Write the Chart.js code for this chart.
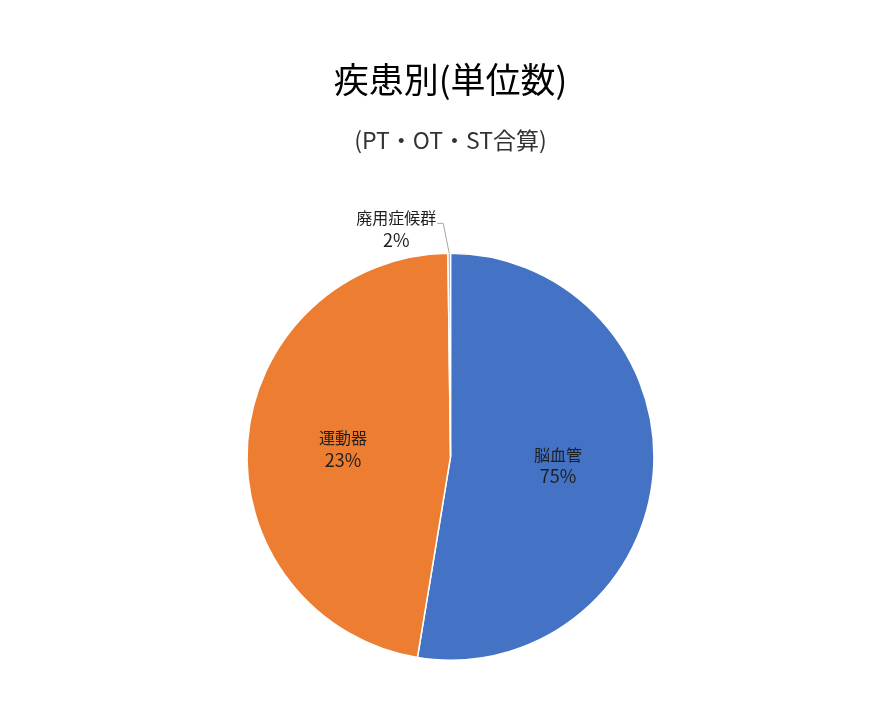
<!DOCTYPE html>
<html lang="ja">
<head>
<meta charset="UTF-8">
<title>疾患別(単位数)</title>
<script src="https://cdn.jsdelivr.net/npm/chart.js"></script>
<style>
  html, body { margin: 0; padding: 0; background: #fff; }
  #wrap { width: 893px; height: 720px; }
</style>
</head>
<body>
<div id="wrap"><canvas id="pieChart"></canvas></div>
<script>
// categories and values
const categories = ['脳血管', '運動器', '廃用症候群'];
// slice sizes as drawn in the picture (share of the circle, %)
const sliceValues = [52.6, 47.2, 0.2];
// percentage labels printed on the slices
const percentLabels = ['75%', '23%', '2%'];
const sliceColors = ['#4472C4', '#ED7D31', '#A5A5A5'];

const jpFont = '"Noto Sans CJK JP", "Noto Sans", sans-serif';

// draws the category name + percentage; tiny slices get an outside label with a leader line
const sliceLabels = {
    id: 'sliceLabels',
    afterDatasetsDraw(chart) {
        const ctx = chart.ctx;
        const meta = chart.getDatasetMeta(0);
        ctx.save();
        ctx.textAlign = 'center';
        ctx.textBaseline = 'middle';
        ctx.fillStyle = '#1f1f1f';
        meta.data.forEach((arc, i) => {
            const p = arc.getProps(['x', 'y', 'startAngle', 'endAngle', 'outerRadius'], true);
            const mid = (p.startAngle + p.endAngle) / 2;
            const share = (p.endAngle - p.startAngle) / (Math.PI * 2);
            if (share > 0.05) {
                const r = p.outerRadius * 0.53;
                const lx = p.x + Math.cos(mid) * r;
                const ly = p.y + Math.sin(mid) * r;
                ctx.font = '16px ' + jpFont;
                ctx.fillText(categories[i], lx, ly - 11);
                ctx.font = '18px ' + jpFont;
                ctx.fillText(percentLabels[i], lx, ly + 11);
            } else {
                const ex = p.x + Math.cos(mid) * p.outerRadius;
                const ey = p.y + Math.sin(mid) * p.outerRadius;
                ctx.strokeStyle = '#a6a6a6';
                ctx.lineWidth = 1;
                ctx.beginPath();
                ctx.moveTo(ex, ey);
                ctx.lineTo(ex - 6, ey - 30);
                ctx.lineTo(ex - 12, ey - 30);
                ctx.stroke();
                ctx.font = '16px ' + jpFont;
                const w = ctx.measureText(categories[i]).width;
                const cx = ex - 13 - w / 2;
                ctx.fillText(categories[i], cx, ey - 35);
                ctx.font = '18px ' + jpFont;
                ctx.fillText(percentLabels[i], cx, ey - 13);
            }
        });
        ctx.restore();
    }
};

new Chart(document.getElementById('pieChart'), {
    type: 'pie',
    data: {
        labels: categories,
        datasets: [{
            data: sliceValues,
            backgroundColor: sliceColors,
            borderColor: '#ffffff',
            borderWidth: 1.5
        }]
    },
    options: {
        responsive: true,
        maintainAspectRatio: false,
        animation: false,
        layout: {
            padding: { top: 0, bottom: 59, left: 246, right: 238 }
        },
        plugins: {
            legend: { display: false },
            tooltip: { enabled: false },
            title: {
                display: true,
                text: '疾患別(単位数)',
                color: '#000000',
                font: { family: jpFont, size: 35, weight: 'normal' },
                padding: { top: 59, bottom: 0 }
            },
            subtitle: {
                display: true,
                text: '(PT・OT・ST合算)',
                color: '#333333',
                font: { family: jpFont, size: 23, weight: 'normal' },
                padding: { top: 25, bottom: 99 }
            }
        }
    },
    plugins: [sliceLabels]
});
</script>
</body>
</html>
